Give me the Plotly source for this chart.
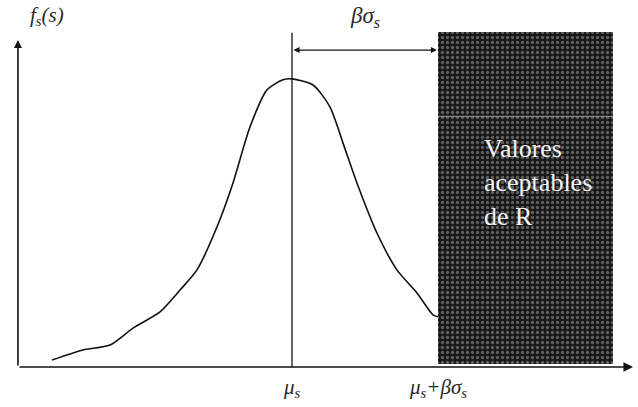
import plotly.graph_objects as go

# Density curve (s in units where mu_s = 0, beta*sigma_s = 1; f normalised to peak 1)
s_vals = [-1.644, -1.432, -1.247, -1.089, -0.904, -0.767, -0.651, -0.514, -0.404, -0.288,
          -0.171, -0.062, 0.0, 0.144, 0.260, 0.349, 0.445, 0.582, 0.719, 0.856, 0.966, 1.0]
f_vals = [0.024, 0.059, 0.076, 0.135, 0.191, 0.267, 0.337, 0.486, 0.639, 0.833,
          0.962, 0.997, 1.0, 0.979, 0.903, 0.778, 0.639, 0.465, 0.337, 0.257, 0.181, 0.174]

mu_s = 0.0
beta_sigma = 1.0
region_end = 2.2
axis_start = -1.877
axis_end = 2.336
y_top = 1.135
vline_top = 1.16
dim_level = 1.10
region_top = 1.163

tick_labels = ["<i>μ<sub>s</sub></i>", "<i>μ<sub>s</sub>+βσ<sub>s</sub></i>"]
region_text = "Valores<br>aceptables<br>de R"

fig = go.Figure()

# shaded acceptable region (textured bar)
fig.add_trace(go.Bar(
    x=[(mu_s + beta_sigma + region_end) / 2], y=[region_top - 0.01], base=[0.01],
    width=[region_end - (mu_s + beta_sigma)],
    marker=dict(color="#161616", line=dict(width=0),
                pattern=dict(shape=".", fgcolor="#a8a8a8", size=5, solidity=0.35)),
    hoverinfo="skip", showlegend=False))

# density curve
fig.add_trace(go.Scatter(x=s_vals, y=f_vals, mode="lines",
                         line=dict(color="#111111", width=1.6, shape="spline", smoothing=0.7),
                         showlegend=False, hoverinfo="skip"))

# light horizontal streak in the region
fig.add_shape(type="line", x0=mu_s + beta_sigma, x1=region_end, y0=0.87, y1=0.87,
              line=dict(color="#9a9a9a", width=1))

# vertical line at mu_s
fig.add_shape(type="line", x0=mu_s, x1=mu_s, y0=0, y1=vline_top,
              line=dict(color="#111111", width=1.3))

# axes with arrows
fig.add_annotation(x=axis_end, y=0, ax=axis_start, ay=0, xref="x", yref="y", axref="x", ayref="y",
                   showarrow=True, arrowhead=2, arrowsize=1.2, arrowwidth=1.6, arrowcolor="#111111", text="")
fig.add_annotation(x=axis_start, y=y_top, ax=axis_start, ay=0, xref="x", yref="y", axref="x", ayref="y",
                   showarrow=True, arrowhead=2, arrowsize=1, arrowwidth=1.6, arrowcolor="#111111", text="")

# double arrow beta*sigma
fig.add_annotation(x=mu_s + beta_sigma - 0.007, y=dim_level, ax=mu_s, ay=dim_level,
                   xref="x", yref="y", axref="x", ayref="y",
                   showarrow=True, arrowhead=2, startarrowhead=2, arrowside="end+start",
                   arrowsize=1, startarrowsize=1, arrowwidth=1.2, arrowcolor="#111111", text="")

lbl_color = "#2a2a2a"
fig.add_annotation(x=0.5, y=1.215, xref="x", yref="y", text="<i>βσ<sub>s</sub></i>",
                   showarrow=False, font=dict(family="Liberation Serif", size=23, color=lbl_color))
fig.add_annotation(x=-1.68, y=1.22, xref="x", yref="y", text="<i>f<sub>s</sub>(s)</i>",
                   showarrow=False, font=dict(family="Liberation Serif", size=21, color=lbl_color))
for xv, lbl in zip([mu_s, mu_s + beta_sigma], tick_labels):
    fig.add_annotation(x=xv, y=-0.073, xref="x", yref="y", text=lbl,
                       showarrow=False, font=dict(family="Liberation Serif", size=21, color=lbl_color))

fig.add_annotation(x=1.30, y=0.64, xref="x", yref="y", text=region_text, xanchor="left",
                   align="left", showarrow=False,
                   font=dict(family="Liberation Serif", size=26, color="#f4f4f4"))

fig.update_layout(
    width=638, height=407, margin=dict(l=0, r=0, t=0, b=0),
    paper_bgcolor="white", plot_bgcolor="white", bargap=0,
    xaxis=dict(range=[-2.0, 2.37], visible=False, fixedrange=True),
    yaxis=dict(range=[-0.139, 1.274], visible=False, fixedrange=True),
)

fig.write_html("out.html", config={"displayModeBar": False},
               post_script="document.body.style.margin='0';")
